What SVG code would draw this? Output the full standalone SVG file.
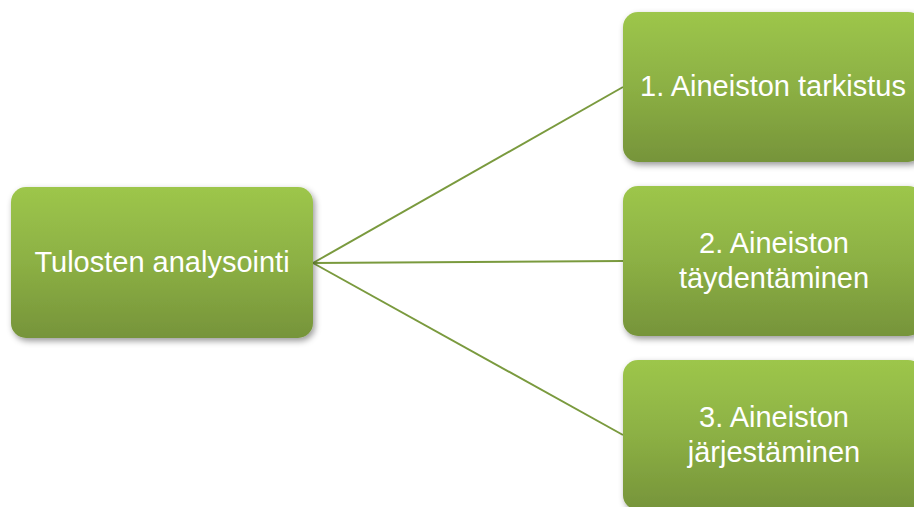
<svg xmlns="http://www.w3.org/2000/svg" width="914" height="507" viewBox="0 0 914 507">
<defs>
<linearGradient id="g" x1="0" y1="0" x2="0" y2="1">
<stop offset="0" stop-color="#9dc64b"/>
<stop offset="0.5" stop-color="#8cb044"/>
<stop offset="1" stop-color="#76943a"/>
</linearGradient>
<filter id="sh" x="-10%" y="-10%" width="125%" height="130%">
<feDropShadow dx="2" dy="3" stdDeviation="3" flood-color="#000" flood-opacity="0.4"/>
</filter>
<style>
.box{fill:url(#g);filter:url(#sh)}
.t{font-family:"Liberation Sans",Arial,sans-serif;font-size:29px;fill:#fff;text-anchor:middle}
.c{stroke:#7a9a3e;stroke-width:2;fill:none}
</style>
</defs>
<g id="connectors">
<line class="c" x1="313" y1="263" x2="623" y2="87"/>
<line class="c" x1="313" y1="263" x2="623" y2="261"/>
<line class="c" x1="313" y1="263" x2="623" y2="435"/>
</g>
<g id="root">
<rect class="box" x="11" y="187" width="302" height="151" rx="15"/>
<text class="t" x="162" y="272">Tulosten analysointi</text>
</g>
<g id="n1">
<rect class="box" x="623" y="12" width="300" height="150" rx="15"/>
<text class="t" x="773" y="96">1. Aineiston tarkistus</text>
</g>
<g id="n2">
<rect class="box" x="623" y="186" width="300" height="150" rx="15"/>
<text class="t" x="774" y="253">2. Aineiston</text>
<text class="t" x="774" y="288">täydentäminen</text>
</g>
<g id="n3">
<rect class="box" x="623" y="360" width="300" height="150" rx="15"/>
<text class="t" x="774" y="427">3. Aineiston</text>
<text class="t" x="774" y="462">järjestäminen</text>
</g>
</svg>
